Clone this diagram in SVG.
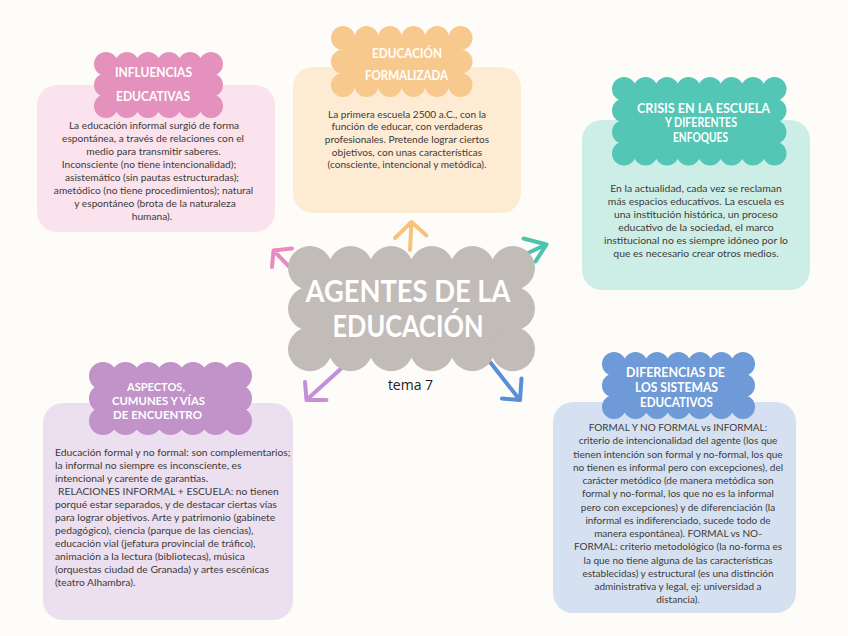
<svg xmlns="http://www.w3.org/2000/svg" width="848" height="636" viewBox="0 0 848 636">
<style>
.bg{fill:#fdfcf9}
.box{stroke:none}
.cl{stroke-linecap:round;stroke-linejoin:round}
.ttl{font-family:Lato,"Liberation Sans",sans-serif;font-weight:700;fill:#ffffff;text-anchor:middle}
.body{font-family:Lato,"Open Sans",sans-serif;fill:#3d3a38}
.c{text-anchor:middle}
.arr{fill:none;stroke-width:4;stroke-linecap:round;stroke-linejoin:round}
</style>
<rect class="bg" x="0" y="0" width="848" height="636"/>

<g id="connectors">
<path class="arr" stroke="#e88bc0" d="M305,283 L274,251 M292,248.5 L273.5,250.5 L272,267"/>
<path class="arr" stroke="#f7c27d" d="M410,250 L411.5,222 M395,238 L411.5,222 L426.5,235.5"/>
<path class="arr" stroke="#4cc3ad" d="M505,264 L546,244.5 M523.5,238.5 L546.5,244.5 L535.5,261.5"/>
<path class="arr" stroke="#c38fd6" d="M355,356 L307,399.5 M305,382 L306.5,400 L326.5,400"/>
<path class="arr" stroke="#5a8ed8" d="M490,362 L519.5,399.5 M502,398.5 L520,400 L521.5,378.5"/>
</g>

<g id="influencias">
<rect class="box" x="37" y="85" width="238" height="147" rx="20" fill="#fae3ec"/>
<rect class="cl" x="106" y="64" width="105" height="42" fill="#e591be" stroke="#e591be" stroke-width="24" stroke-dasharray="0 21"/>
<text class="ttl" font-size="14" x="153.5" y="77" textLength="77" lengthAdjust="spacingAndGlyphs">INFLUENCIAS</text>
<text class="ttl" font-size="14" x="153" y="100.5" textLength="74" lengthAdjust="spacingAndGlyphs">EDUCATIVAS</text>
<g class="body c" font-size="10.2">
<text x="154" y="128.5">La educación informal surgió de forma</text>
<text x="153" y="141.6">espontánea, a través de relaciones con el</text>
<text x="153.5" y="154.7">medio para transmitir saberes.</text>
<text x="149" y="167.8">Inconsciente (no tiene intencionalidad);</text>
<text x="152" y="180.9">asistemático (sin pautas estructuradas);</text>
<text x="153.5" y="194">ametódico (no tiene procedimientos); natural</text>
<text x="155" y="207.1">y espontáneo (brota de la naturaleza</text>
<text x="152" y="220.2">humana).</text>
</g>
</g>

<g id="formalizada">
<rect class="box" x="293" y="67" width="228" height="146" rx="20" fill="#fdebd4"/>
<rect class="cl" x="343" y="38" width="117.5" height="47" fill="#f8c98c" stroke="#f8c98c" stroke-width="24" stroke-dasharray="0 23.5"/>
<text class="ttl" font-size="14" x="407" y="58" textLength="70" lengthAdjust="spacingAndGlyphs">EDUCACIÓN</text>
<text class="ttl" font-size="14" x="406.5" y="80" textLength="83" lengthAdjust="spacingAndGlyphs">FORMALIZADA</text>
<g class="body c" font-size="10.1">
<text x="407" y="117.5">La primera escuela 2500 a.C., con la</text>
<text x="407" y="130.2">función de educar, con verdaderas</text>
<text x="407" y="142.9">profesionales. Pretende lograr ciertos</text>
<text x="407" y="155.6">objetivos, con unas características</text>
<text x="407" y="168.3">(consciente, intencional y metódica).</text>
</g>
</g>

<g id="crisis">
<rect class="box" x="582" y="120" width="228" height="170" rx="20" fill="#cdeee6"/>
<rect class="cl" x="624" y="89" width="150.5" height="64.5" fill="#54c6b6" stroke="#54c6b6" stroke-width="24" stroke-dasharray="0 21.5"/>
<text class="ttl" font-size="13" x="703.5" y="112.7" textLength="133" lengthAdjust="spacingAndGlyphs">CRISIS EN LA ESCUELA</text>
<text class="ttl" font-size="13" x="701" y="127.3" textLength="72" lengthAdjust="spacingAndGlyphs">Y DIFERENTES</text>
<text class="ttl" font-size="13" x="700.5" y="142.3" textLength="55" lengthAdjust="spacingAndGlyphs">ENFOQUES</text>
<g class="body c" font-size="10.4">
<text x="696" y="191.5">En la actualidad, cada vez se reclaman</text>
<text x="696" y="204.5">más espacios educativos. La escuela es</text>
<text x="696" y="217.5">una institución histórica, un proceso</text>
<text x="696" y="230.5">educativo de la sociedad, el marco</text>
<text x="696" y="243.5">institucional no es siempre idóneo por lo</text>
<text x="696" y="256.5">que es necesario crear otros medios.</text>
</g>
</g>

<g id="aspectos">
<rect class="box" x="43" y="403" width="250" height="217" rx="20" fill="#ebdff0"/>
<rect class="cl" x="103" y="376" width="135" height="45" fill="#c193c8" stroke="#c193c8" stroke-width="28" stroke-dasharray="0 22.5"/>
<text class="ttl" font-size="12" x="156" y="391" textLength="58" lengthAdjust="spacingAndGlyphs">ASPECTOS,</text>
<text class="ttl" font-size="12" x="158.5" y="405" textLength="93" lengthAdjust="spacingAndGlyphs">CUMUNES Y VÍAS</text>
<text class="ttl" font-size="12" x="157.5" y="419.3" textLength="89" lengthAdjust="spacingAndGlyphs">DE ENCUENTRO</text>
<g class="body" font-size="10.3">
<text x="55" y="456">Educación formal y no formal: son complementarios;</text>
<text x="55" y="469">la informal no siempre es inconsciente, es</text>
<text x="55" y="482">intencional y carente de garantías.</text>
<text x="58" y="495">RELACIONES INFORMAL + ESCUELA: no tienen</text>
<text x="55" y="508">porqué estar separados, y de destacar ciertas vías</text>
<text x="55" y="521">para lograr objetivos. Arte y patrimonio (gabinete</text>
<text x="55" y="534">pedagógico), ciencia (parque de las ciencias),</text>
<text x="55" y="547">educación vial (jefatura provincial de tráfico),</text>
<text x="55" y="560">animación a la lectura (bibliotecas), música</text>
<text x="55" y="573">(orquestas ciudad de Granada) y artes escénicas</text>
<text x="55" y="586">(teatro Alhambra).</text>
</g>
</g>

<g id="diferencias">
<rect class="box" x="553" y="402" width="243" height="211" rx="20" fill="#d5e1f1"/>
<rect class="cl" x="614" y="364" width="129" height="43" fill="#6e9ad8" stroke="#6e9ad8" stroke-width="24" stroke-dasharray="0 21.5"/>
<text class="ttl" font-size="13" x="675.5" y="376.7" textLength="99" lengthAdjust="spacingAndGlyphs">DIFERENCIAS DE</text>
<text class="ttl" font-size="13" x="676.5" y="391.7" textLength="83" lengthAdjust="spacingAndGlyphs">LOS SISTEMAS</text>
<text class="ttl" font-size="13" x="676.5" y="406.7" textLength="73" lengthAdjust="spacingAndGlyphs">EDUCATIVOS</text>
<g class="body c" font-size="10">
<text x="678" y="431">FORMAL Y NO FORMAL vs INFORMAL:</text>
<text x="678" y="444.25">criterio de intencionalidad del agente (los que</text>
<text x="678" y="457.5">tienen intención son formal y no-formal, los que</text>
<text x="678" y="470.75">no tienen es informal pero con excepciones), del</text>
<text x="678" y="484">carácter metódico (de manera metódica son</text>
<text x="678" y="497.25">formal y no-formal, los que no es la informal</text>
<text x="678" y="510.5">pero con excepciones) y de diferenciación (la</text>
<text x="678" y="523.75">informal es indiferenciado, sucede todo de</text>
<text x="678" y="537">manera espontánea). FORMAL vs NO-</text>
<text x="678" y="550.25">FORMAL: criterio metodológico (la no-forma es</text>
<text x="678" y="563.5">la que no tiene alguna de las características</text>
<text x="678" y="576.75">establecidas) y estructural (es una distinción</text>
<text x="678" y="590">administrativa y legal, ej: universidad a</text>
<text x="678" y="603.25">distancia).</text>
</g>
</g>

<g id="central">
<rect class="cl" x="310" y="268" width="203" height="81.2" fill="#c1bcb8" stroke="#c1bcb8" stroke-width="44" stroke-dasharray="0 40.6"/>
<text class="ttl" font-size="30" x="408" y="302" textLength="205" lengthAdjust="spacingAndGlyphs">AGENTES DE LA</text>
<text class="ttl" font-size="30" x="408" y="337" textLength="151" lengthAdjust="spacingAndGlyphs">EDUCACIÓN</text>
<text x="410.5" y="390" font-family="'Open Sans','Liberation Sans',sans-serif" font-size="14" fill="#222222" text-anchor="middle">tema 7</text>
</g>
</svg>
